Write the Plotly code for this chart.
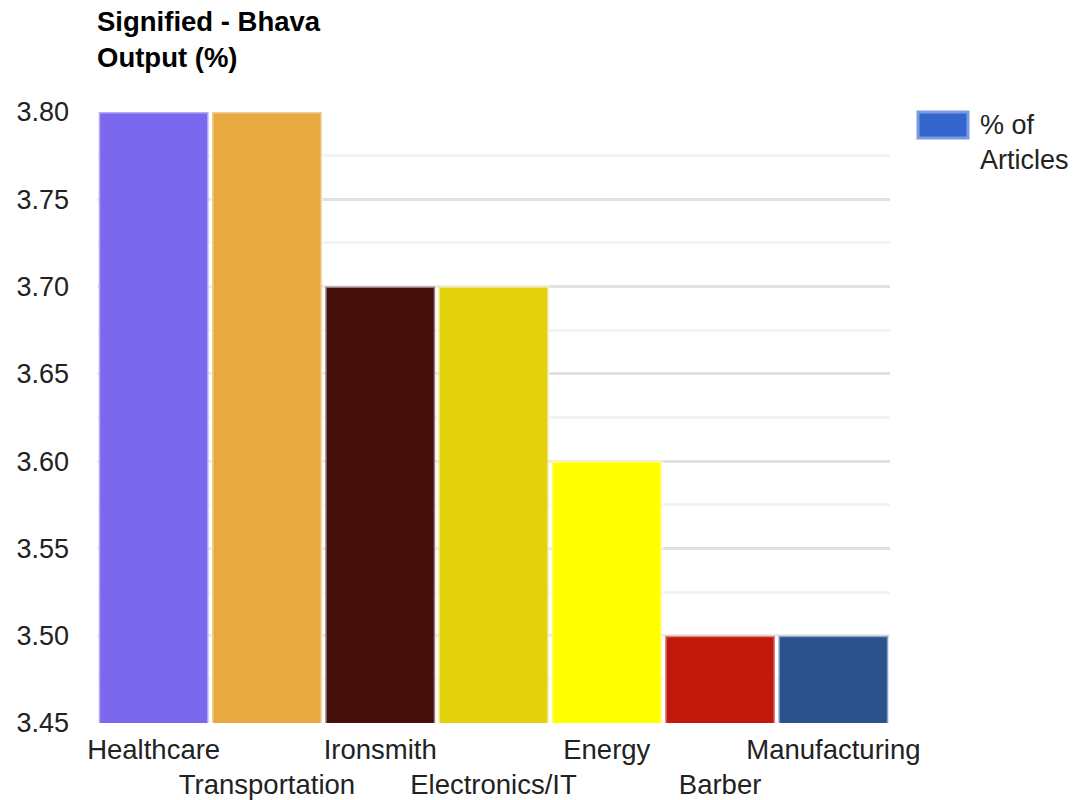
import plotly.graph_objects as go

categories = ["Healthcare", "Transportation", "Ironsmith", "Electronics/IT", "Energy", "Barber", "Manufacturing"]
values = [3.8, 3.8, 3.7, 3.7, 3.6, 3.5, 3.5]
colors = ["#7b68ee", "#e8aa40", "#440e0a", "#e2d10c", "#ffff00", "#c0180a", "#2d518d"]
tick_vals = [3.45, 3.50, 3.55, 3.60, 3.65, 3.70, 3.75, 3.80]
tick_text = ["3.45", "3.50", "3.55", "3.60", "3.65", "3.70", "3.75", "3.80"]
series_name = "% of<br>Articles"
series_color = "#3366cc"
title_text = "Signified - Bhava<br>Output (%)"

# alternate the category labels on two rows
x_labels = [c if i % 2 == 0 else "<br>" + c for i, c in enumerate(categories)]

FONT = "Liberation Sans, Arial, sans-serif"
W, H = 1074, 800
L, R, T, B = 97, 184, 112, 77
PW, PH = W - L - R, H - T - B


def px_x(x):
    return (x - L) / PW


def px_y(y):
    return 1 - (y - T) / PH


fig = go.Figure()
fig.add_trace(go.Bar(
    x=categories, y=values,
    marker=dict(color=colors, line=dict(color="rgba(255,255,255,0.45)", width=3)),
    showlegend=False,
))

# legend (drawn manually so the swatch matches the large Google-style key)
fig.add_shape(type="rect", xref="paper", yref="paper",
              x0=px_x(918), x1=px_x(968), y0=px_y(138), y1=px_y(112),
              fillcolor=series_color, line=dict(color="#7a9be0", width=3))
fig.add_annotation(text=series_name, xref="paper", yref="paper",
                   x=px_x(978), y=px_y(108), xanchor="left", yanchor="top",
                   showarrow=False, align="left",
                   font=dict(family=FONT, size=27, color="#222222"))

# title
fig.add_annotation(text="<b>" + title_text + "</b>", xref="paper", yref="paper",
                   x=px_x(95), y=px_y(4), xanchor="left", yanchor="top",
                   showarrow=False, align="left",
                   font=dict(family=FONT, size=27.5, color="#000000"))

fig.update_layout(
    width=W, height=H,
    margin=dict(l=L, r=R, t=T, b=B, autoexpand=False),
    paper_bgcolor="white", plot_bgcolor="white",
    font=dict(family=FONT, size=27, color="#222222"),
    bargap=0.03,
    showlegend=False,
    xaxis=dict(tickmode="array", tickvals=categories, ticktext=x_labels,
               tickangle=0, showgrid=False, showline=False, ticks="",
               automargin=False, ticklabelstandoff=7,
               tickfont=dict(size=27.5, color="#222222")),
    yaxis=dict(range=[3.45, 3.80], tickmode="array", tickvals=tick_vals, ticktext=tick_text,
               showgrid=True, gridcolor="#e0e0e0", gridwidth=3, zeroline=False,
               showline=False, ticks="", ticklabelstandoff=27, automargin=False,
               tickfont=dict(size=27, color="#222222"),
               minor=dict(dtick=0.025, tick0=3.45, showgrid=True, gridcolor="#f3f3f3", gridwidth=3)),
)

fig.write_html("out.html",
               config={"displayModeBar": False},
               post_script="document.body.style.margin='0';document.body.style.overflow='hidden';")
